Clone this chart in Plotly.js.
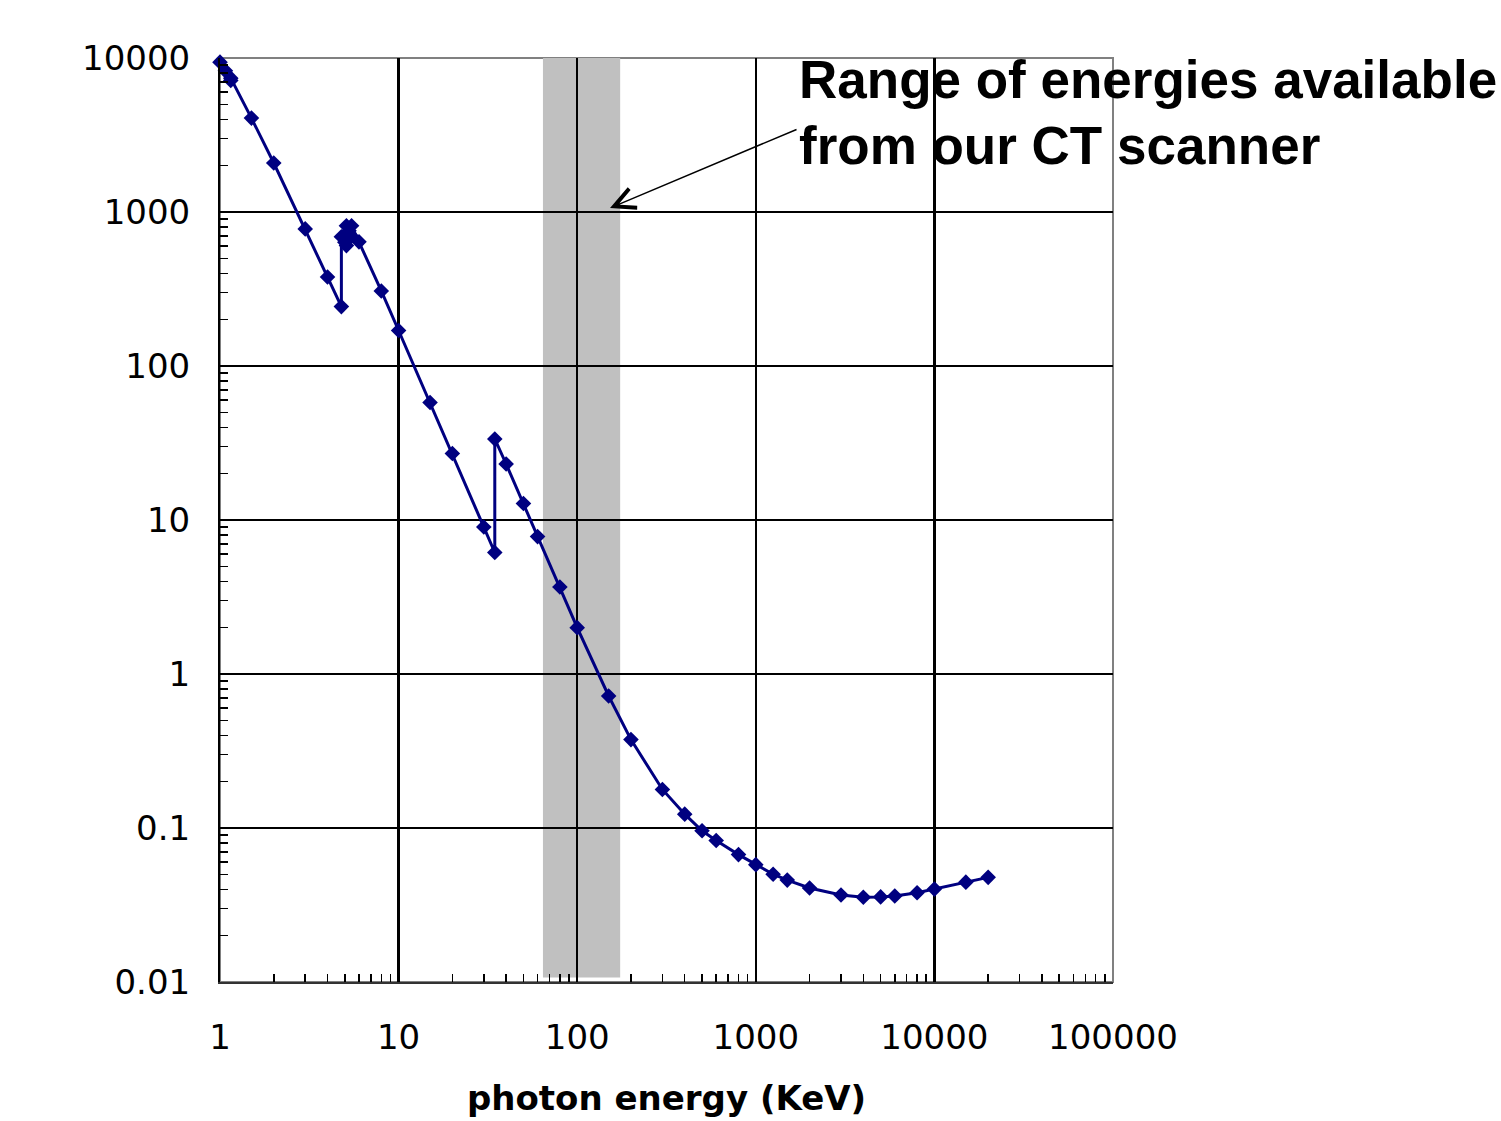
<!DOCTYPE html>
<html>
<head>
<meta charset="utf-8">
<script src="https://cdn.plot.ly/plotly-3.0.1.min.js"></script>
<style>
  html, body { margin: 0; padding: 0; background: #fff; }
  #chart { width: 1501px; height: 1121px; }
</style>
</head>
<body>
<div id="chart"></div>
<script>
// Photon energy (keV)
var energy = [1.0, 1.072, 1.149, 1.149, 1.5, 2, 3, 4, 4.782, 4.782, 5.0, 5.104, 5.104, 5.275, 5.453, 5.453,
              6, 8, 10, 15, 20, 30, 34.56, 34.56, 40, 50, 60, 80, 100, 150, 200, 300, 400, 500, 600, 800,
              1000, 1250, 1500, 2000, 3000, 4000, 5000, 6000, 8000, 10000, 15000, 20000];
// Attenuation values
var attenuation = [9400, 8250, 7150, 7400, 4070, 2080, 777, 378, 243, 690, 635, 605, 815, 755, 697, 815,
                   640, 307, 170, 58, 27, 9.0, 6.15, 33.6, 23.1, 12.8, 7.8, 3.67, 2.0, 0.72, 0.375, 0.178,
                   0.123, 0.096, 0.083, 0.0672, 0.0578, 0.0501, 0.0459, 0.0408, 0.0367, 0.0355, 0.0357,
                   0.0362, 0.038, 0.0401, 0.0445, 0.0478];

var xTickVals = [1, 10, 100, 1000, 10000, 100000];
var xTickText = ['1', '10', '100', '1000', '10000', '100000'];
var yTickVals = [0.01, 0.1, 1, 10, 100, 1000, 10000];
var yTickText = ['0.01', '0.1', '1', '10', '100', '1000', '10000'];

// CT scanner energy range (keV)
var bandLow = 64.3;
var bandHigh = 174;

var annotationLine1 = 'Range of energies available';
var annotationLine2 = 'from our CT scanner';
var xTitle = 'photon energy (KeV)';

// arrow tip in data units
var arrowTipE = 152.7;
var arrowTipMu = 1062;

function minorVals(d0, d1) {
  var v = [];
  for (var d = d0; d < d1; d++) {
    for (var m = 2; m <= 9; m++) v.push(m * Math.pow(10, d));
  }
  return v;
}

var trace = {
  x: energy,
  y: attenuation,
  type: 'scatter',
  mode: 'lines+markers',
  line: { color: '#000080', width: 3 },
  marker: { symbol: 'diamond', size: 12, color: '#000080' },
  cliponaxis: false,
  hoverinfo: 'x+y'
};

var axisCommon = {
  type: 'log',
  tickmode: 'array',
  ticks: 'inside',
  ticklen: 8,
  tickwidth: 1.5,
  tickcolor: '#000',
  showgrid: true,
  gridcolor: '#000',
  gridwidth: 2.5,
  showline: true,
  linewidth: 2,
  zeroline: false,
  automargin: false,
  fixedrange: true,
  tickfont: { family: 'DejaVu Sans', size: 34, color: '#000' }
};

var textFont = { family: 'Liberation Sans', size: 53, weight: 'bold', color: '#000' };

var layout = {
  width: 1501,
  height: 1121,
  margin: { l: 220, r: 388, t: 58, b: 139, pad: 0 },
  paper_bgcolor: '#fff',
  plot_bgcolor: '#fff',
  showlegend: false,
  font: { family: 'DejaVu Sans', color: '#000' },
  xaxis: Object.assign({}, axisCommon, {
    range: [0, 5],
    tickvals: xTickVals,
    ticktext: xTickText,
    linecolor: '#333',
    ticklabelstandoff: 24,
    minor: { tickmode: 'array', tickvals: minorVals(0, 5), ticks: 'inside', ticklen: 8, tickwidth: 1.5, tickcolor: '#000', showgrid: false },
    title: { text: xTitle, font: { family: 'DejaVu Sans', size: 34, weight: 'bold', color: '#000' }, standoff: 30 }
  }),
  yaxis: Object.assign({}, axisCommon, {
    range: [-2, 4],
    tickvals: yTickVals,
    ticktext: yTickText,
    linecolor: '#000',
    ticklabelstandoff: 21,
    minor: { tickmode: 'array', tickvals: minorVals(-2, 4), ticks: 'inside', ticklen: 8, tickwidth: 1.5, tickcolor: '#000', showgrid: false }
  }),
  shapes: [
    { type: 'rect', xref: 'x', yref: 'y', x0: bandLow, x1: bandHigh, y0: 0.0107, y1: 10000,
      fillcolor: '#c0c0c0', line: { width: 0 }, layer: 'below' },
    { type: 'rect', xref: 'paper', yref: 'paper', x0: 0, x1: 1, y0: 0, y1: 1,
      fillcolor: 'rgba(0,0,0,0)', line: { color: '#808080', width: 2 }, layer: 'between' }
  ],
  annotations: [
    { xref: 'paper', yref: 'paper', x: 0.6461, y: 1, xanchor: 'left', yanchor: 'middle', yshift: -21.5,
      text: annotationLine1, showarrow: false, align: 'left', font: textFont },
    { xref: 'paper', yref: 'paper', x: 0.6461, y: 1, xanchor: 'left', yanchor: 'middle', yshift: -87,
      text: annotationLine2, showarrow: false, align: 'left', font: textFont },
    { xref: 'x', yref: 'y', x: Math.log10(arrowTipE), y: Math.log10(arrowTipMu),
      text: ' ', showarrow: true, ax: 190, ay: -80, axref: 'pixel', ayref: 'pixel',
      arrowhead: 5, arrowsize: 2.7, arrowwidth: 1.5, arrowcolor: '#000', standoff: 0 }
  ]
};

Plotly.newPlot('chart', [trace], layout, { displayModeBar: false, staticPlot: true });
</script>
</body>
</html>
